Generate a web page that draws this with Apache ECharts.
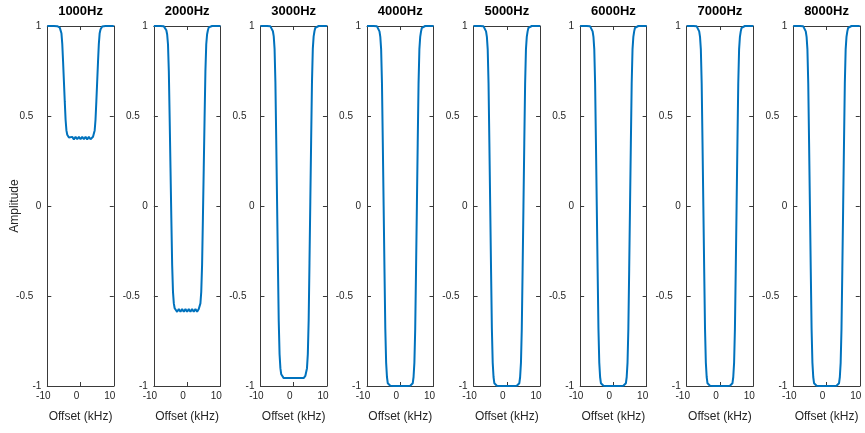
<!DOCTYPE html>
<html>
<head>
<meta charset="utf-8">
<script src="https://cdn.jsdelivr.net/npm/echarts@6/dist/echarts.min.js"></script>
<style>
  html, body { margin: 0; padding: 0; background: #fff; }
  #chart { width: 865px; height: 433px; }
</style>
</head>
<body>
<div id="chart"></div>
<script>
// Frequency offset samples (kHz), shared by every panel
const offsetKHz = [-10, -9, -8, -7.5, -7, -6.5, -6.25, -6, -5.75, -5.5, -5.25, -5, -4.75, -4.5, -4.25, -4, -3.75, -3.5,
  -3, -2.5, -2, -1.5, -1, -0.5, 0, 0.5, 1, 1.5, 2, 2.5, 3,
  3.5, 3.75, 4, 4.25, 4.5, 4.75, 5, 5.25, 5.5, 5.75, 6, 6.25, 6.5, 7, 7.5, 8, 9, 10];

// Panel titles
const panelTitles = ['1000Hz', '2000Hz', '3000Hz', '4000Hz', '5000Hz', '6000Hz', '7000Hz', '8000Hz'];

// Amplitude per panel
const amp1000 = [1, 1, 1, 1, 0.999, 0.997, 0.991, 0.981, 0.96, 0.901, 0.8, 0.69, 0.581, 0.479, 0.42, 0.396, 0.385, 0.381,
  0.371, 0.384, 0.370, 0.384, 0.371, 0.384, 0.371, 0.384, 0.371, 0.384, 0.370, 0.384, 0.371,
  0.381, 0.385, 0.396, 0.42, 0.479, 0.581, 0.69, 0.8, 0.901, 0.96, 0.981, 0.991, 0.997, 0.999, 1, 1, 1, 1];
const amp2000 = [1, 1, 1, 1, 0.998, 0.992, 0.976, 0.953, 0.897, 0.747, 0.486, 0.21, -0.067, -0.327, -0.477, -0.541, -0.568, -0.572,
  -0.588, -0.572, -0.588, -0.573, -0.588, -0.573, -0.588, -0.573, -0.588, -0.573, -0.588, -0.572, -0.588,
  -0.572, -0.568, -0.541, -0.477, -0.327, -0.067, 0.21, 0.486, 0.747, 0.897, 0.953, 0.976, 0.992, 0.998, 1, 1, 1, 1];
const amp3000 = [1, 1, 1, 1, 0.998, 0.99, 0.971, 0.942, 0.873, 0.688, 0.366, 0.025, -0.316, -0.638, -0.823, -0.901, -0.935, -0.944,
  -0.956, -0.945, -0.956, -0.946, -0.956, -0.946, -0.956, -0.946, -0.956, -0.946, -0.956, -0.945, -0.956,
  -0.944, -0.935, -0.901, -0.823, -0.638, -0.316, 0.025, 0.366, 0.688, 0.873, 0.942, 0.971, 0.99, 0.998, 1, 1, 1, 1];
const amp4000 = [1, 1, 1, 1, 0.998, 0.99, 0.97, 0.94, 0.87, 0.68, 0.35, 0, -0.35, -0.68, -0.87, -0.95, -0.985, -0.995,
  -0.999, -1, -1, -1, -1, -1, -1, -1, -1, -1, -1, -1, -0.999,
  -0.995, -0.985, -0.95, -0.87, -0.68, -0.35, 0, 0.35, 0.68, 0.87, 0.94, 0.97, 0.99, 0.998, 1, 1, 1, 1];
const amp5000 = [1, 1, 1, 1, 0.998, 0.99, 0.97, 0.94, 0.87, 0.68, 0.35, 0, -0.35, -0.68, -0.87, -0.95, -0.985, -0.995,
  -0.999, -1, -1, -1, -1, -1, -1, -1, -1, -1, -1, -1, -0.999,
  -0.995, -0.985, -0.95, -0.87, -0.68, -0.35, 0, 0.35, 0.68, 0.87, 0.94, 0.97, 0.99, 0.998, 1, 1, 1, 1];
const amp6000 = [1, 1, 1, 1, 0.998, 0.99, 0.97, 0.94, 0.87, 0.68, 0.35, 0, -0.35, -0.68, -0.87, -0.95, -0.985, -0.995,
  -0.999, -1, -1, -1, -1, -1, -1, -1, -1, -1, -1, -1, -0.999,
  -0.995, -0.985, -0.95, -0.87, -0.68, -0.35, 0, 0.35, 0.68, 0.87, 0.94, 0.97, 0.99, 0.998, 1, 1, 1, 1];
const amp7000 = [1, 1, 1, 1, 0.998, 0.99, 0.97, 0.94, 0.87, 0.68, 0.35, 0, -0.35, -0.68, -0.87, -0.95, -0.985, -0.995,
  -0.999, -1, -1, -1, -1, -1, -1, -1, -1, -1, -1, -1, -0.999,
  -0.995, -0.985, -0.95, -0.87, -0.68, -0.35, 0, 0.35, 0.68, 0.87, 0.94, 0.97, 0.99, 0.998, 1, 1, 1, 1];
const amp8000 = [1, 1, 1, 1, 0.998, 0.99, 0.97, 0.94, 0.87, 0.68, 0.35, 0, -0.35, -0.68, -0.87, -0.95, -0.985, -0.995,
  -0.999, -1, -1, -1, -1, -1, -1, -1, -1, -1, -1, -1, -0.999,
  -0.995, -0.985, -0.95, -0.87, -0.68, -0.35, 0, 0.35, 0.68, 0.87, 0.94, 0.97, 0.99, 0.998, 1, 1, 1, 1];

const panelAmps = [amp1000, amp2000, amp3000, amp4000, amp5000, amp6000, amp7000, amp8000];

// Tick labels
const xTickLabels = { '-10': '-10', '0': '0', '10': '10' };
const yTickLabels = { '-1': '-1', '-0.5': '-0.5', '0': '0', '0.5': '0.5', '1': '1' };

const FONT = 'Arial, "Liberation Sans", Helvetica, sans-serif';
const AXIS_COLOR = '#3a3a3a';
const TEXT_COLOR = '#262626';
const LINE_COLOR = '#0072BD';

const gridLeft0 = 47.3, gridStep = 106.57, gridWidth = 66.5, gridTop = 26, gridHeight = 360;

const grid = [], xAxis = [], yAxis = [], series = [], graphic = [];

panelTitles.forEach((title, i) => {
  const left = gridLeft0 + i * gridStep;
  grid.push({ left: left, top: gridTop, width: gridWidth, height: gridHeight, containLabel: false });

  const boxLine = { show: true, onZero: false, lineStyle: { color: AXIS_COLOR, width: 1 } };
  const tick = { show: true, inside: true, length: 4, lineStyle: { color: AXIS_COLOR, width: 1 } };

  // bottom x axis with labels
  xAxis.push({
    gridIndex: i, type: 'value', position: 'bottom', min: -10, max: 10, interval: 10,
    axisLine: boxLine, axisTick: tick, splitLine: { show: false },
    axisLabel: {
      show: true, margin: 5, fontSize: 10, fontFamily: FONT, color: TEXT_COLOR,
      padding: [0, 8, 0, 0],
      formatter: v => xTickLabels[String(v)] || String(v)
    },
    name: 'Offset (kHz)', nameLocation: 'middle', nameGap: 25, nameMoveOverlap: false,
    nameTextStyle: { fontSize: 12, fontFamily: FONT, color: TEXT_COLOR }
  });
  // top box edge
  xAxis.push({
    gridIndex: i, type: 'value', position: 'top', min: -10, max: 10, interval: 10,
    axisLine: boxLine, axisTick: tick, splitLine: { show: false }, axisLabel: { show: false }
  });
  // left y axis with labels
  yAxis.push({
    gridIndex: i, type: 'value', position: 'left', min: -1, max: 1, interval: 0.5,
    axisLine: boxLine, axisTick: tick, splitLine: { show: false },
    axisLabel: {
      show: true, margin: 6, fontSize: 10, fontFamily: FONT, color: TEXT_COLOR,
      formatter: v => {
        const s = yTickLabels[String(v)] || String(v);
        return s.indexOf('.') >= 0 ? '{d|' + s + '}' : '{n|' + s + '}';
      },
      rich: {
        d: { fontSize: 10, fontFamily: FONT, color: TEXT_COLOR, padding: [0, 8, 0, 0] },
        n: { fontSize: 10, fontFamily: FONT, color: TEXT_COLOR }
      }
    },
    name: i === 0 ? 'Amplitude' : '', nameLocation: 'middle', nameGap: 27, nameRotate: 90,
    nameMoveOverlap: false,
    nameTextStyle: { fontSize: 12, fontFamily: FONT, color: TEXT_COLOR }
  });
  // right box edge
  yAxis.push({
    gridIndex: i, type: 'value', position: 'right', min: -1, max: 1, interval: 0.5,
    axisLine: boxLine, axisTick: tick, splitLine: { show: false }, axisLabel: { show: false }
  });

  series.push({
    type: 'line', name: title, xAxisIndex: 2 * i, yAxisIndex: 2 * i,
    data: offsetKHz.map((x, k) => [x, panelAmps[i][k]]),
    showSymbol: false, symbol: 'none', clip: false, smooth: false,
    lineStyle: { color: LINE_COLOR, width: 2 },
    animation: false
  });

  graphic.push({
    type: 'text', x: left + gridWidth / 2, y: 5,
    style: { text: title, fontSize: 13, fontWeight: 'bold', fontFamily: FONT, fill: '#000', textAlign: 'center', textVerticalAlign: 'top' }
  });
});

const chart = echarts.init(document.getElementById('chart'), null, { renderer: 'canvas' });
chart.setOption({
  animation: false,
  backgroundColor: '#ffffff',
  grid, xAxis, yAxis, series, graphic
});
</script>
</body>
</html>
